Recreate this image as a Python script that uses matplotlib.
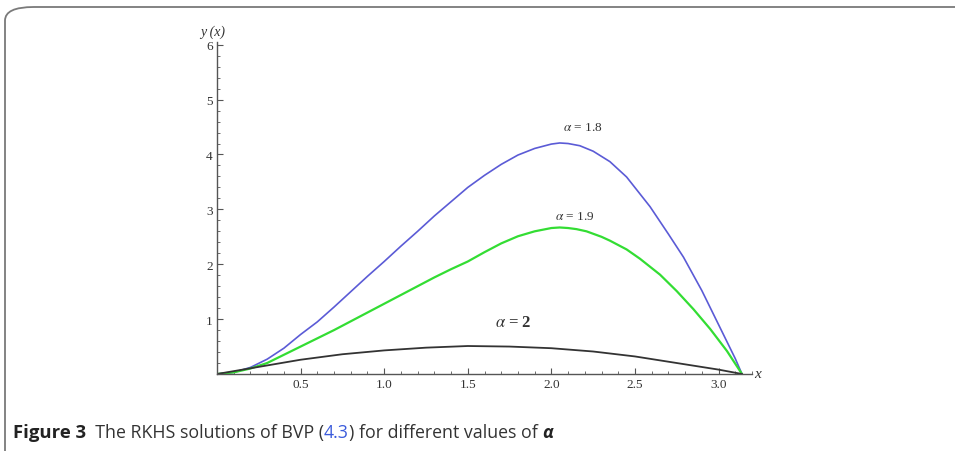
import numpy as np
import matplotlib
matplotlib.use('Agg')
import matplotlib.pyplot as plt
from matplotlib.patches import FancyBboxPatch
from matplotlib.ticker import MultipleLocator

plt.rcParams['mathtext.fontset'] = 'stix'

# alpha = 1.8 (blue)
x_18 = [0, 0.1, 0.2, 0.3, 0.4, 0.5, 0.6, 0.7, 0.8, 0.9, 1.0, 1.1, 1.2, 1.3, 1.4, 1.5,
        1.6, 1.7, 1.8, 1.9, 1.95, 2.0, 2.05, 2.1, 2.17, 2.25, 2.35, 2.45, 2.59, 2.7,
        2.79, 2.9, 3.0, 3.1, 3.14]
y_18 = [0, 0.03, 0.12, 0.27, 0.47, 0.72, 0.95, 1.22, 1.5, 1.78, 2.05, 2.33, 2.6, 2.88,
        3.14, 3.4, 3.62, 3.82, 3.99, 4.11, 4.15, 4.19, 4.21, 4.2, 4.16, 4.06, 3.87, 3.59,
        3.05, 2.55, 2.13, 1.52, 0.9, 0.28, 0.0]

# alpha = 1.9 (green)
x_19 = [0, 0.1, 0.2, 0.3, 0.4, 0.5, 0.6, 0.7, 0.8, 0.9, 1.0, 1.1, 1.2, 1.3, 1.4, 1.5,
        1.6, 1.7, 1.8, 1.9, 1.95, 2.0, 2.05, 2.1, 2.15, 2.21, 2.3, 2.35, 2.45, 2.53,
        2.65, 2.75, 2.85, 2.95, 3.05, 3.14]
y_19 = [0, 0.03, 0.1, 0.2, 0.35, 0.5, 0.65, 0.8, 0.96, 1.12, 1.28, 1.44, 1.6, 1.76,
        1.91, 2.05, 2.22, 2.38, 2.51, 2.6, 2.63, 2.66, 2.67, 2.66, 2.64, 2.6, 2.5, 2.43,
        2.27, 2.1, 1.81, 1.51, 1.18, 0.82, 0.42, 0.0]

# alpha = 2 (black)
x_2 = [0, 0.25, 0.5, 0.75, 1.0, 1.25, 1.5, 1.75, 2.0, 2.25, 2.5, 2.75, 3.0, 3.14]
y_2 = [0, 0.13, 0.26, 0.36, 0.43, 0.48, 0.51, 0.5, 0.47, 0.41, 0.32, 0.2, 0.08, 0.0]

x_ticks = [0.5, 1.0, 1.5, 2.0, 2.5, 3.0]
y_ticks = [1, 2, 3, 4, 5, 6]

fig = plt.figure(figsize=(9.55, 4.52), dpi=100)

# rounded frame around the figure
frame = FancyBboxPatch((5 / 955, -0.2), 1.2, 1.2 - 8 / 452,
                       boxstyle='round,pad=0,rounding_size=0.03',
                       transform=fig.transFigure, fill=False,
                       edgecolor='#7a7a7a', linewidth=1.3, clip_on=False)
fig.patches.append(frame)

ax = fig.add_axes([217 / 955, 77 / 452, 535 / 955, 332 / 452])
ax.plot(x_18, y_18, color='#5b5bd6', lw=1.2)
ax.plot(x_19, y_19, color='#33dd33', lw=1.6)
ax.plot(x_2, y_2, color='#333333', lw=1.3)

ax.set_xlim(0, 3.2)
ax.set_ylim(0, 6.05)
for s in ['top', 'right']:
    ax.spines[s].set_visible(False)
for s in ['left', 'bottom']:
    ax.spines[s].set_color('#555555')
    ax.spines[s].set_linewidth(1.0)

serif = 'Liberation Serif'
ax.set_xticks(x_ticks)
ax.set_xticklabels(['%.1f' % v for v in x_ticks], family=serif, fontsize=9.5)
ax.set_yticks(y_ticks)
ax.set_yticklabels([str(v) for v in y_ticks], family=serif, fontsize=9.5)
ax.xaxis.set_minor_locator(MultipleLocator(0.1))
ax.yaxis.set_minor_locator(MultipleLocator(0.2))
ax.tick_params(which='major', direction='in', length=4, width=0.8, color='#555555',
               pad=3, labelcolor='#333333')
ax.tick_params(which='minor', direction='in', length=2, width=0.6, color='#555555')

ax.text(1.005, 0.0, 'x', transform=ax.transAxes, family=serif, style='italic',
        fontsize=11, va='center', ha='left', color='#333333')
ax.text(-0.008, 1.012, 'y (x)', transform=ax.transAxes, family=serif, style='italic',
        fontsize=10, va='bottom', ha='center', color='#333333')

ax.text(2.19, 4.5, r'$\alpha$ = 1.8', family=serif, fontsize=9.5, ha='center',
        va='center', color='#333333')
ax.text(2.14, 2.88, r'$\alpha$ = 1.9', family=serif, fontsize=9.5, ha='center',
        va='center', color='#333333')
ax.text(1.77, 0.95, r'$\alpha$ = 2', family=serif, fontsize=12, ha='center',
        va='center', color='#333333', weight='bold')

# caption built from pieces
fig.canvas.draw()
renderer = fig.canvas.get_renderer()
cap = [('Figure 3', 'bold', 'normal', '#222222', 13.3),
       ('  The RKHS solutions of BVP (', 'normal', 'normal', '#333333', 12.8),
       ('4.3', 'normal', 'normal', '#3b5bdb', 12.8),
       (') for different values of ', 'normal', 'normal', '#333333', 12.8),
       ('\u03b1', 'bold', 'italic', '#222222', 12.8)]
xpos = 13
for txt, w, st, c, fs in cap:
    t = fig.text(xpos / 955, 1 - 433 / 452, txt, family=['Open Sans', 'DejaVu Sans'],
                 weight=w, style=st, color=c, fontsize=fs, va='center', ha='left')
    bb = t.get_window_extent(renderer)
    xpos += bb.width

fig.savefig('out.png', dpi=100)
